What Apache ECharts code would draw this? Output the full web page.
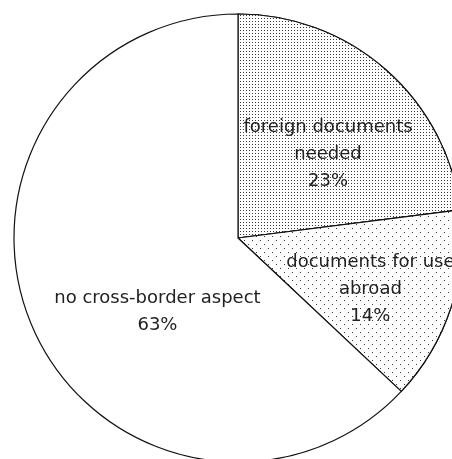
<!DOCTYPE html>
<html>
<head>
<meta charset="utf-8">
<script src="https://cdn.jsdelivr.net/npm/echarts@6/dist/echarts.min.js"></script>
<style>
  html, body { margin: 0; padding: 0; background: #fff; }
  #chart { width: 452px; height: 459px; }
</style>
</head>
<body>
<div id="chart"></div>
<script>
// Share of cases by cross-border involvement
const categories = ['foreign documents\nneeded', 'documents for use\nabroad', 'no cross-border aspect'];
const shares = [23, 14, 63];

// Label nudges (px) from the default inner position, per slice
const labelShift = [[14, 3], [23, 16], [25, 28]];

// Dot-screen fills: dense dots, sparse dots, plain white
const fills = [
  { symbol: 'rect', symbolSize: 1, color: '#3a3a3a', backgroundColor: '#fff',
    dashArrayX: [1, 2], dashArrayY: [1, 2] },
  { symbol: 'rect', symbolSize: 1, color: '#3a3a3a', backgroundColor: '#fff',
    dashArrayX: [[1, 7], [0, 4, 1, 3]], dashArrayY: [1, 3] },
  null
];

const chart = echarts.init(document.getElementById('chart'), null, { renderer: 'canvas' });

chart.setOption({
  animation: false,
  backgroundColor: '#fff',
  series: [{
    type: 'pie',
    center: [238, 238],
    radius: 224,
    startAngle: 90,
    clockwise: true,
    silent: true,
    itemStyle: { color: '#fff', borderColor: '#111', borderWidth: 1.2 },
    label: {
      show: true,
      position: 'inner',
      formatter: '{b}\n{d}%',
      fontFamily: 'DejaVu Sans',
      fontSize: 18,
      lineHeight: 27,
      color: '#222'
    },
    labelLine: { show: false },
    labelLayout: function (params) {
      const s = labelShift[params.dataIndex];
      return { dx: s[0], dy: s[1] };
    },
    data: categories.map(function (name, i) {
      const item = { name: name, value: shares[i] };
      if (fills[i]) item.itemStyle = { decal: fills[i] };
      return item;
    })
  }]
});
</script>
</body>
</html>
